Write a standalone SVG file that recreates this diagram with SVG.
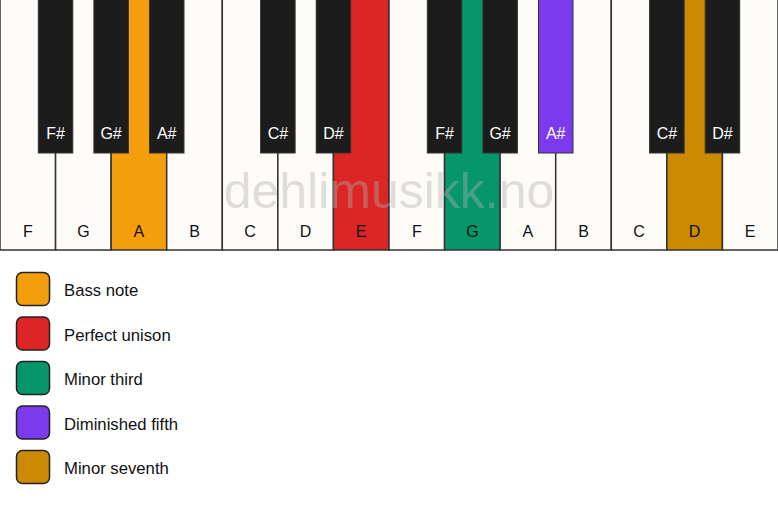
<svg xmlns="http://www.w3.org/2000/svg" width="778" height="506" viewBox="0 0 778 506">
<style>
.w{fill:#fdfcf9;stroke:#333;stroke-width:1.5}
.b{fill:#1c1c1c;stroke:#333;stroke-width:1}
.wl{font-family:"Liberation Sans",Arial,sans-serif;font-size:16px;fill:#111;text-anchor:middle}
.bl{font-family:"Liberation Sans",Arial,sans-serif;font-size:16px;fill:#fff;text-anchor:middle}
.lg{stroke:#222;stroke-width:1.5}
.lt{font-family:"Liberation Sans",Arial,sans-serif;font-size:16.7px;fill:#111}
</style>
<rect width="778" height="506" fill="#fff"/>
<g id="white-keys">
<g id="k-F1"><rect class="w" x="0" y="-2" width="55.57" height="252"/><text class="wl" x="27.8" y="237">F</text></g>
<g id="k-G1"><rect class="w" x="55.57" y="-2" width="55.57" height="252"/><text class="wl" x="83.4" y="237">G</text></g>
<g id="k-A1"><rect class="w" x="111.14" y="-2" width="55.57" height="252" style="fill:#f59e0b"/><text class="wl" x="138.9" y="237">A</text></g>
<g id="k-B1"><rect class="w" x="166.71" y="-2" width="55.57" height="252"/><text class="wl" x="194.5" y="237">B</text></g>
<g id="k-C1"><rect class="w" x="222.29" y="-2" width="55.57" height="252"/><text class="wl" x="250.1" y="237">C</text></g>
<g id="k-D1"><rect class="w" x="277.86" y="-2" width="55.57" height="252"/><text class="wl" x="305.6" y="237">D</text></g>
<g id="k-E1"><rect class="w" x="333.43" y="-2" width="55.57" height="252" style="fill:#dc2626"/><text class="wl" x="361.2" y="237">E</text></g>
<g id="k-F2"><rect class="w" x="389" y="-2" width="55.57" height="252"/><text class="wl" x="416.8" y="237">F</text></g>
<g id="k-G2"><rect class="w" x="444.57" y="-2" width="55.57" height="252" style="fill:#059669"/><text class="wl" x="472.4" y="237">G</text></g>
<g id="k-A2"><rect class="w" x="500.14" y="-2" width="55.57" height="252"/><text class="wl" x="527.9" y="237">A</text></g>
<g id="k-B2"><rect class="w" x="555.71" y="-2" width="55.57" height="252"/><text class="wl" x="583.5" y="237">B</text></g>
<g id="k-C2"><rect class="w" x="611.29" y="-2" width="55.57" height="252"/><text class="wl" x="639.1" y="237">C</text></g>
<g id="k-D2"><rect class="w" x="666.86" y="-2" width="55.57" height="252" style="fill:#ca8a04"/><text class="wl" x="694.6" y="237">D</text></g>
<g id="k-E2"><rect class="w" x="722.43" y="-2" width="55.57" height="252"/><text class="wl" x="750.2" y="237">E</text></g>
</g>
<text x="389" y="208" font-family="'Liberation Sans',Arial,sans-serif" font-size="50" fill="#b0b0b0" fill-opacity="0.4" text-anchor="middle">dehlimusikk.no</text>
<g id="black-keys">
<g id="k-Fs1"><rect class="b" x="38.3" y="-2" width="34.5" height="155"/><text class="bl" x="55.6" y="139">F#</text></g>
<g id="k-Gs1"><rect class="b" x="93.9" y="-2" width="34.5" height="155"/><text class="bl" x="111.1" y="139">G#</text></g>
<g id="k-As1"><rect class="b" x="149.5" y="-2" width="34.5" height="155"/><text class="bl" x="166.7" y="139">A#</text></g>
<g id="k-Cs1"><rect class="b" x="260.6" y="-2" width="34.5" height="155"/><text class="bl" x="277.9" y="139">C#</text></g>
<g id="k-Ds1"><rect class="b" x="316.2" y="-2" width="34.5" height="155"/><text class="bl" x="333.4" y="139">D#</text></g>
<g id="k-Fs2"><rect class="b" x="427.3" y="-2" width="34.5" height="155"/><text class="bl" x="444.6" y="139">F#</text></g>
<g id="k-Gs2"><rect class="b" x="482.9" y="-2" width="34.5" height="155"/><text class="bl" x="500.1" y="139">G#</text></g>
<g id="k-As2"><rect class="b" x="538.5" y="-2" width="34.5" height="155" style="fill:#7c3aed"/><text class="bl" x="555.7" y="139">A#</text></g>
<g id="k-Cs2"><rect class="b" x="649.6" y="-2" width="34.5" height="155"/><text class="bl" x="666.9" y="139">C#</text></g>
<g id="k-Ds2"><rect class="b" x="705.2" y="-2" width="34.5" height="155"/><text class="bl" x="722.4" y="139">D#</text></g>
</g>
<g id="legend">
<g id="lg-bass"><rect class="lg" x="16.5" y="272.5" width="33" height="33" rx="6" fill="#f59e0b"/><text class="lt" x="64" y="296">Bass note</text></g>
<g id="lg-unison"><rect class="lg" x="16.5" y="317" width="33" height="33" rx="6" fill="#dc2626"/><text class="lt" x="64" y="340.5">Perfect unison</text></g>
<g id="lg-third"><rect class="lg" x="16.5" y="361.5" width="33" height="33" rx="6" fill="#059669"/><text class="lt" x="64" y="385">Minor third</text></g>
<g id="lg-fifth"><rect class="lg" x="16.5" y="406" width="33" height="33" rx="6" fill="#7c3aed"/><text class="lt" x="64" y="429.5">Diminished fifth</text></g>
<g id="lg-seventh"><rect class="lg" x="16.5" y="450.5" width="33" height="33" rx="6" fill="#ca8a04"/><text class="lt" x="64" y="474">Minor seventh</text></g>
</g>
</svg>
